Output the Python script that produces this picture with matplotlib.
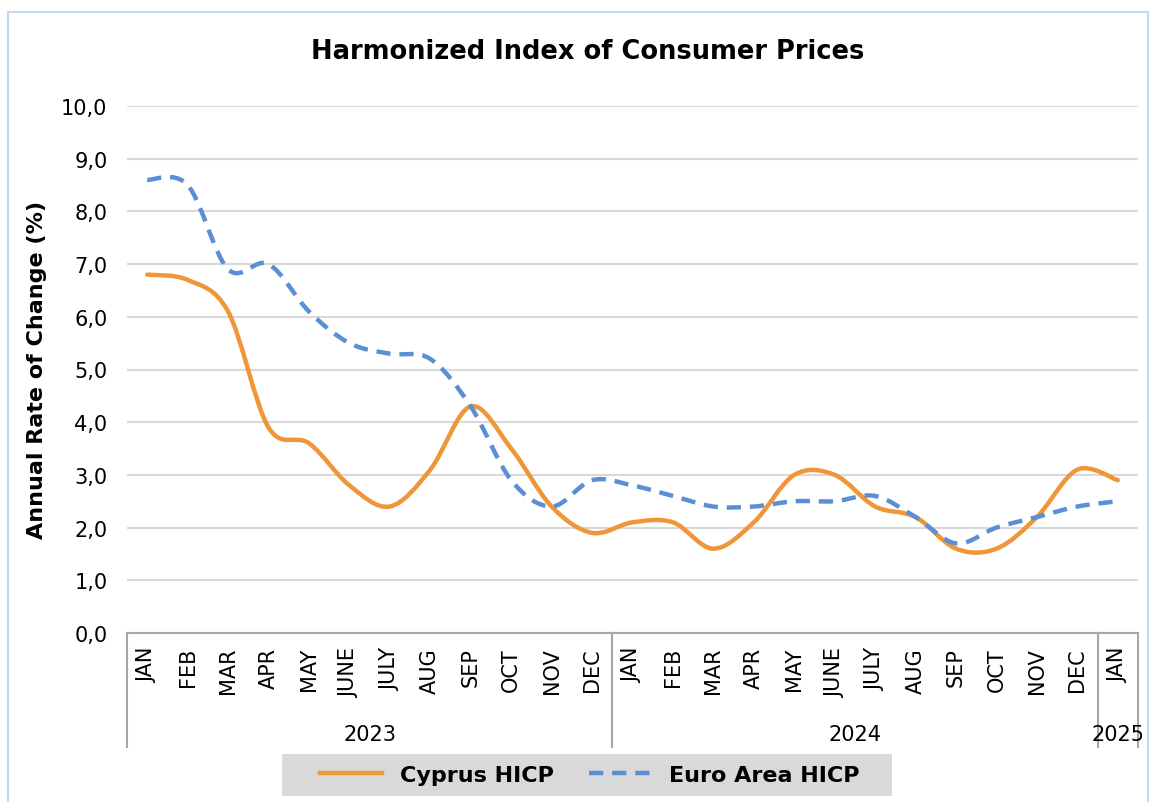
import numpy as np
import matplotlib
matplotlib.use("Agg")
import matplotlib.pyplot as plt
from matplotlib.path import Path
from matplotlib.patches import PathPatch, Rectangle
from matplotlib.lines import Line2D
import matplotlib.transforms as mtransforms

months = ["JAN", "FEB", "MAR", "APR", "MAY", "JUNE", "JULY", "AUG", "SEP", "OCT", "NOV", "DEC",
          "JAN", "FEB", "MAR", "APR", "MAY", "JUNE", "JULY", "AUG", "SEP", "OCT", "NOV", "DEC",
          "JAN"]
years = ["2023", "2024", "2025"]
year_counts = [12, 12, 1]

cyprus = [6.8, 6.7, 6.1, 3.9, 3.6, 2.8, 2.4, 3.1, 4.3, 3.5, 2.4, 1.9,
          2.1, 2.1, 1.6, 2.1, 3.0, 3.0, 2.4, 2.2, 1.6, 1.6, 2.2, 3.1,
          2.9]
euro = [8.6, 8.5, 6.9, 7.0, 6.1, 5.5, 5.3, 5.2, 4.3, 2.9, 2.4, 2.9,
        2.8, 2.6, 2.4, 2.4, 2.5, 2.5, 2.6, 2.2, 1.7, 2.0, 2.2, 2.4,
        2.5]

ORANGE = "#ef9638"
BLUE = "#5a8fd6"
W, H = 1151, 803


def smooth_path(xs, ys):
    # Excel-like smoothed line: cubic Bezier segments through the data points
    pts = np.column_stack([xs, ys]).astype(float)
    n = len(pts)
    verts = [pts[0]]
    codes = [Path.MOVETO]
    for i in range(n - 1):
        p0 = pts[max(i - 1, 0)]
        p1 = pts[i]
        p2 = pts[i + 1]
        p3 = pts[min(i + 2, n - 1)]
        verts += [p1 + (p2 - p0) / 6, p2 - (p3 - p1) / 6, p2]
        codes += [Path.CURVE4] * 3
    return Path(verts, codes)


fig = plt.figure(figsize=(W / 100, H / 100), dpi=100)

# outer chart border
fig.patches.append(Rectangle((8 / W, -0.05), (1148 - 8) / W, 1 - 13 / H + 0.05,
                             transform=fig.transFigure, fill=False,
                             edgecolor="#c6d9f0", lw=1.5))

ax = fig.add_axes([127 / W, 1 - 634 / H, (1138 - 127) / W, (634 - 107) / H])
x = np.arange(len(months))

ax.add_patch(PathPatch(smooth_path(x, cyprus), fill=False, edgecolor=ORANGE,
                       lw=3.2, capstyle="round", joinstyle="round", zorder=3))
ax.add_patch(PathPatch(smooth_path(x, euro), fill=False, edgecolor=BLUE,
                       lw=3.2, linestyle=(0, (3.2, 2.0)), capstyle="butt", zorder=4))

ax.set_xlim(-0.5, len(months) - 0.5)
ax.set_ylim(0, 10)
ax.set_yticks(np.arange(0, 11, 1))
ax.set_yticklabels([f"{v:.1f}".replace(".", ",") for v in np.arange(0, 11, 1)],
                   fontsize=15)
ax.grid(axis="y", color="#d9d9d9", lw=1.5)
ax.set_axisbelow(True)
ax.tick_params(axis="y", length=0, pad=14)

ax.set_xticks(x)
ax.set_xticklabels(months, rotation=90, fontsize=15, va="top")
ax.tick_params(axis="x", length=0, pad=10)

for s in ["top", "right", "left"]:
    ax.spines[s].set_visible(False)
ax.spines["bottom"].set_color("#a6a6a6")
ax.spines["bottom"].set_linewidth(1.5)

# year grouping lines and labels below the axis
trans = mtransforms.blended_transform_factory(ax.transData, ax.transAxes)
depth = -(748 - 634) / (634 - 107)
bounds = np.concatenate([[0], np.cumsum(year_counts)]) - 0.5
for b in bounds:
    ax.plot([b, b], [0, depth], transform=trans, color="#a6a6a6", lw=1.5, clip_on=False)
ylab = -(735 - 634) / (634 - 107)
for i, yr in enumerate(years):
    ax.text((bounds[i] + bounds[i + 1]) / 2, ylab, yr, transform=trans,
            ha="center", va="center", fontsize=15)

fig.text(588 / W, 1 - 52 / H, "Harmonized Index of Consumer Prices",
         ha="center", va="center", fontsize=18.5, fontweight="bold")
fig.text(37 / W, 1 - 370 / H, "Annual Rate of Change (%)", rotation=90,
         ha="center", va="center", fontsize=16, fontweight="bold")

# legend with grey background
fig.patches.append(Rectangle((282 / W, 1 - 797 / H), (892 - 282) / W, 42 / H,
                             transform=fig.transFigure, facecolor="#d9d9d9",
                             edgecolor="none"))
handles = [Line2D([], [], color=ORANGE, lw=3.2),
           Line2D([], [], color=BLUE, lw=3.2, linestyle=(0, (3.2, 2.0)))]
fig.legend(handles, ["Cyprus HICP", "Euro Area HICP"], loc="center",
           bbox_to_anchor=(590 / W, 1 - 776 / H), ncol=2, frameon=False,
           prop={"weight": "bold", "size": 16}, handlelength=2.8,
           columnspacing=1.6, handletextpad=0.8)

fig.savefig("out.png", dpi=100)
